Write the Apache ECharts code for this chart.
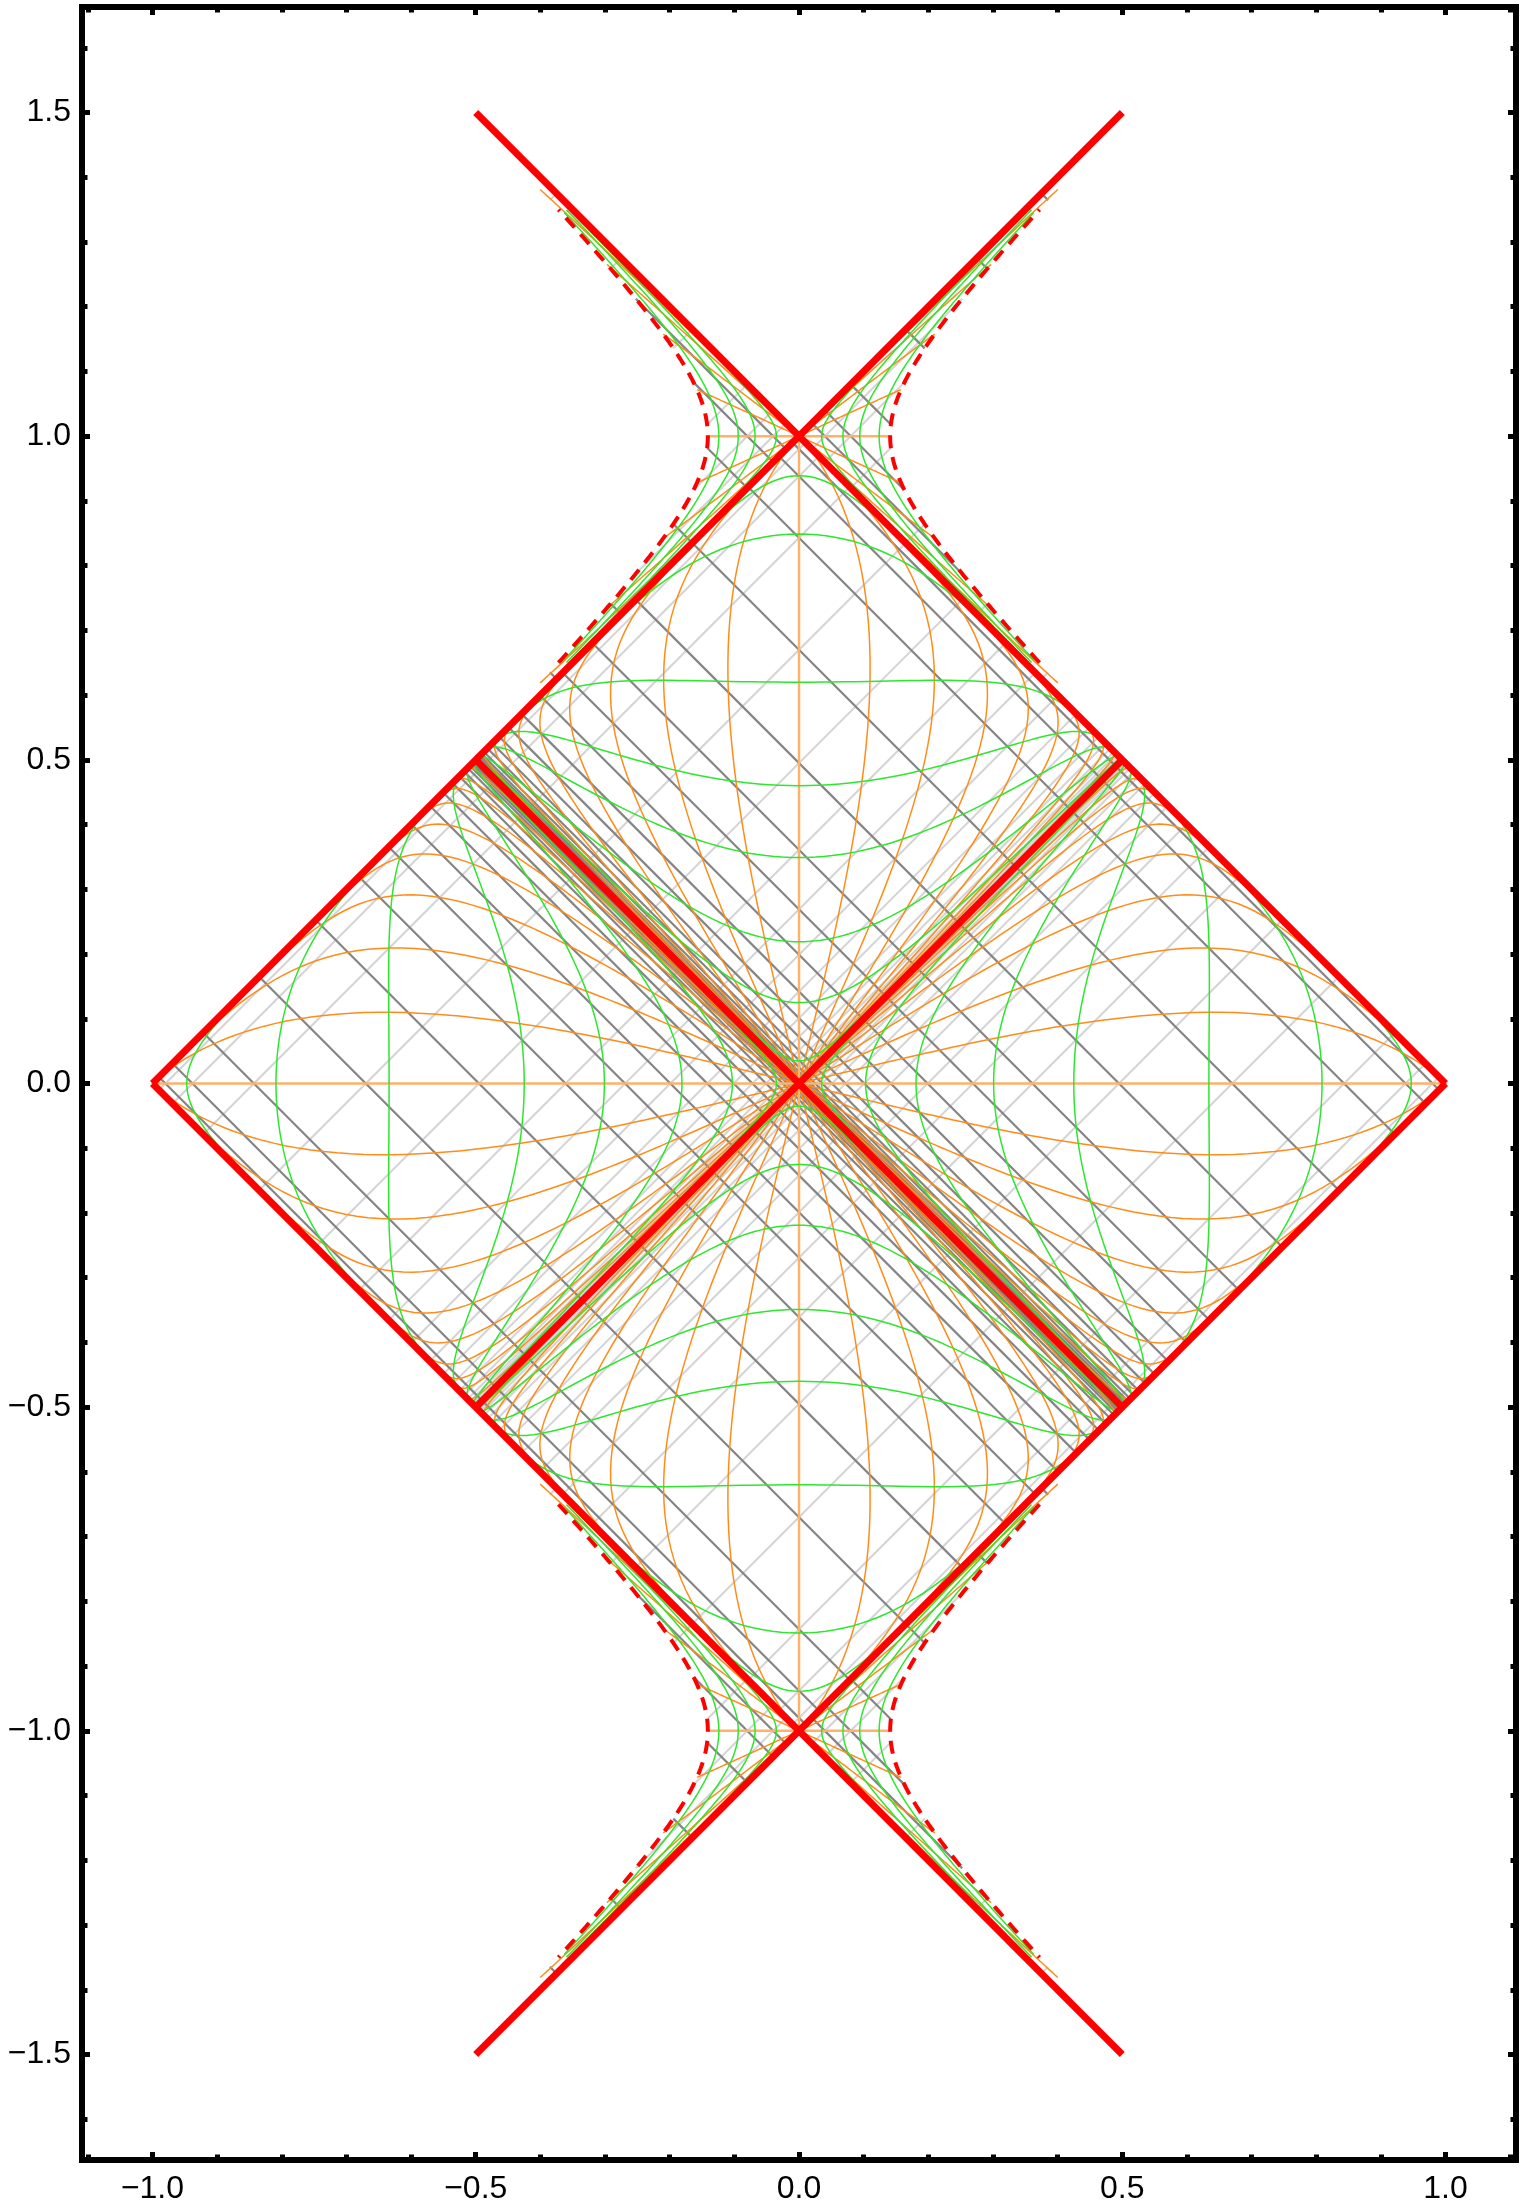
<!DOCTYPE html>
<html>
<head>
<meta charset="utf-8">
<script src="https://cdn.jsdelivr.net/npm/echarts@6/dist/echarts.min.js"></script>
<style>
  html, body { margin: 0; padding: 0; background: #fff; }
  #main { width: 1522px; height: 2209px; }
</style>
</head>
<body>
<div id="main"></div>
<script>
// frame ticks
var xTicks = [-1.0, -0.5, 0.0, 0.5, 1.0];
var yTicks = [-1.5, -1.0, -0.5, 0.0, 0.5, 1.0, 1.5];
var xMinorTicks = [-1.1, -0.9, -0.8, -0.7, -0.6, -0.4, -0.3, -0.2, -0.1, 0.1, 0.2, 0.3, 0.4, 0.6, 0.7, 0.8, 0.9, 1.1];
var yMinorTicks = [-1.6, -1.4, -1.3, -1.2, -1.1, -0.9, -0.8, -0.7, -0.6, -0.4, -0.3, -0.2, -0.1,
                   0.1, 0.2, 0.3, 0.4, 0.6, 0.7, 0.8, 0.9, 1.1, 1.2, 1.3, 1.4, 1.6];

// horizons (thick red), endpoints
var horizonLines = [
  [[-0.5, 1.5], [1, 0]],
  [[0.5, 1.5], [-1, 0]],
  [[0.5, -1.5], [-1, 0]],
  [[-0.5, -1.5], [1, 0]],
  [[-0.5, 0.5], [0.5, -0.5]],
  [[-0.5, -0.5], [0.5, 0.5]]
];

// outer patch (bifurcation at origin), read where curves cross the axes
var rCurvesRightX = [0.035, 0.103, 0.181, 0.301, 0.425, 0.634, 0.809, 0.947]; // green, cross T=0
var rCurvesTopT   = [0.035, 0.125, 0.219, 0.349, 0.460, 0.620, 0.849, 0.939]; // green, cross X=0
var tRapidity     = [0.25, 0.5, 0.75, 1, 1.25, 1.5, 1.75, 2, 2.5, 3, 3.5];     // orange
var nullLevels    = [0.006, 0.009, 0.013, 0.018, 0.025, 0.036, 0.051, 0.072, 0.101,
                     0.142, 0.199, 0.269, 0.361, 0.495, 0.670, 0.843, 0.938, 0.98]; // grey

// inner patches around (0, 1) and (0, -1)
var innerRX = [0.035, 0.068, 0.094, 0.124];
var singularityX = 0.141;
var innerReachT = 0.35;   // how far from T = ±1 the inner curves are drawn
var innerRapidity = [0.5, 1, 1.5, 2];
var innerNullLevels = [0.04, 0.08, 0.16, 0.33, 0.55, 0.75];

// ---- geometry helpers (tanh-compactified null coordinates) ----
function range(a, b, step) { var out = []; for (var v = a; v <= b + 1e-9; v += step) out.push(v); return out; }
function pt(uk, vk, cy) {
  var U = Math.tanh(uk), V = Math.tanh(vk);
  return [(V - U) / 2, cy + (U + V) / 2];
}
function flip(c, sx, sy, cy) {
  return c.map(function (p) { return [sx * p[0], cy + sy * (p[1] - cy)]; });
}
var S = range(-7, 7, 0.04);
var SI = range(-7, 7, 0.02);
var W = range(-9, 5, 0.05);

function rightWedgeR(rho, cy) {
  return S.map(function (s) { return pt(-rho * Math.exp(-s), rho * Math.exp(s), cy); });
}
function innerR(rho) {
  return SI.map(function (s) { return pt(-rho * Math.exp(-s), rho * Math.exp(s), 1); })
           .filter(function (p) { return Math.abs(p[1] - 1) <= innerReachT; });
}
function topWedgeR(rho) {
  return S.map(function (s) { return pt(rho * Math.exp(-s), rho * Math.exp(s), 0); });
}
function rightWedgeT(al) {
  return [[0, 0]].concat(W.map(function (w) { var a = Math.exp(w); return pt(-a, a * Math.exp(2 * al), 0); }));
}
function topWedgeT(al) {
  return [[0, 0]].concat(W.map(function (w) { var a = Math.exp(w); return pt(a, a * Math.exp(2 * al), 0); }));
}
function four(c) { return [c, flip(c, -1, 1, 0), flip(c, 1, -1, 0), flip(c, -1, -1, 0)]; }

var green = [], orange = [], paleOrange = [], dark = [], light = [], dashed = [];

// outer patch
rCurvesRightX.forEach(function (x0) {
  var c = rightWedgeR(Math.atanh(x0), 0);
  green.push(c, flip(c, -1, 1, 0));
});
rCurvesTopT.forEach(function (t0) {
  var c = topWedgeR(Math.atanh(t0));
  green.push(c, flip(c, 1, -1, 0));
});
tRapidity.forEach(function (al) {
  orange.push.apply(orange, four(rightWedgeT(al)));
  orange.push.apply(orange, four(topWedgeT(al)));
});
paleOrange.push(rightWedgeT(0), flip(rightWedgeT(0), -1, 1, 0), topWedgeT(0), flip(topWedgeT(0), 1, -1, 0));
nullLevels.forEach(function (L) {
  [L, -L].forEach(function (l) {
    dark.push([[(l + 1) / 2, (l - 1) / 2], [(l - 1) / 2, (l + 1) / 2]]);
    light.push([[(-1 - l) / 2, (l - 1) / 2], [(1 - l) / 2, (l + 1) / 2]]);
  });
});

// inner patch, built in the right wedge of (0, 1)
var rhoS = Math.atanh(singularityX);
var tg = [], to = [], tp = [], td = [], tl = [], ts = [];
innerRX.forEach(function (x0) { tg.push(innerR(Math.atanh(x0))); });
ts.push(innerR(rhoS));
innerRapidity.forEach(function (al) {
  var amax = rhoS * Math.exp(-al), c = [];
  for (var i = 0; i <= 40; i++) { var a = amax * i / 40; c.push(pt(-a, a * Math.exp(2 * al), 1)); }
  to.push(c, flip(c, 1, -1, 1));
});
tp.push([[0, 1], pt(-rhoS, rhoS, 1)]);
innerNullLevels.forEach(function (L) {
  var c = Math.atanh(L);
  td.push([pt(0, c, 1), pt(-rhoS * rhoS / c, c, 1)]);
  tl.push([pt(-c, 0, 1), pt(-c, rhoS * rhoS / c, 1)]);
});
function addInner(target, same, swapped) {
  var top = same.concat(swapped.map(function (c) { return flip(c, -1, 1, 1); }));
  top.forEach(function (c) { target.push(c, flip(c, -1, -1, 0)); });
}
addInner(green, tg, tg);
addInner(orange, to, to);
addInner(paleOrange, tp, tp);
addInner(dashed, ts, ts);
addInner(dark, td, tl);
addInner(light, tl, td);

// ---- chart ----
var myChart = echarts.init(document.getElementById('main'));
var X_MIN = -1.109, X_MAX = 1.109, Y_MIN = -1.663, Y_MAX = 1.663;
var fmt = function (v) { return (v < -1e-9 ? '\u2212' : '') + Math.abs(v).toFixed(1); };
var labelFont = { fontSize: 32, color: '#000', fontFamily: 'Liberation Sans, Arial, sans-serif' };

function axis(type, pos, ticks, len, withLine, labels, margin) {
  var a = {
    type: 'value', position: pos,
    min: type === 'x' ? X_MIN : Y_MIN, max: type === 'x' ? X_MAX : Y_MAX,
    axisLine: { show: withLine, onZero: false, lineStyle: { color: '#000', width: 6, cap: 'square' } },
    axisTick: { show: true, inside: true, length: len, customValues: ticks, lineStyle: { color: '#000', width: 5 } },
    axisLabel: { show: false },
    splitLine: { show: false }
  };
  if (labels) {
    a.axisLabel = Object.assign({ show: true, customValues: ticks, formatter: fmt, margin: margin }, labelFont);
  }
  return a;
}

function linesSeries(data, style, z) {
  return {
    type: 'lines', coordinateSystem: 'cartesian2d', polyline: true, silent: true,
    xAxisIndex: 0, yAxisIndex: 0, z: z, progressive: 0, animation: false,
    data: data.map(function (c) { return { coords: c }; }),
    lineStyle: Object.assign({ opacity: 1, curveness: 0 }, style)
  };
}

var option = {
  animation: false,
  backgroundColor: '#fff',
  grid: { left: 82, top: 7, width: 1434, height: 2153, outerBoundsMode: 'none' },
  xAxis: [
    axis('x', 'bottom', xTicks, 8, true, true, 13),
    axis('x', 'bottom', xMinorTicks, 5.5, false, false),
    axis('x', 'top', xTicks, 8, true, false),
    axis('x', 'top', xMinorTicks, 5.5, false, false)
  ],
  yAxis: [
    axis('y', 'left', yTicks, 8, true, true, 11),
    axis('y', 'left', yMinorTicks, 5.5, false, false),
    axis('y', 'right', yTicks, 8, true, false),
    axis('y', 'right', yMinorTicks, 5.5, false, false)
  ],
  series: [
    linesSeries(light, { color: '#d4d4d4', width: 2 }, 1),
    linesSeries(dark, { color: '#858585', width: 2.2 }, 2),
    linesSeries(paleOrange, { color: '#fdb26a', width: 2.5 }, 3),
    linesSeries(orange, { color: '#ff8c1a', width: 1.5 }, 3),
    linesSeries(green, { color: '#2ee62e', width: 1.5 }, 4),
    linesSeries(dashed, { color: '#ff0000', width: 4, type: [13, 9] }, 5),
    linesSeries(horizonLines, { color: '#ff0000', width: 7 }, 6)
  ]
};
myChart.setOption(option);
</script>
</body>
</html>
